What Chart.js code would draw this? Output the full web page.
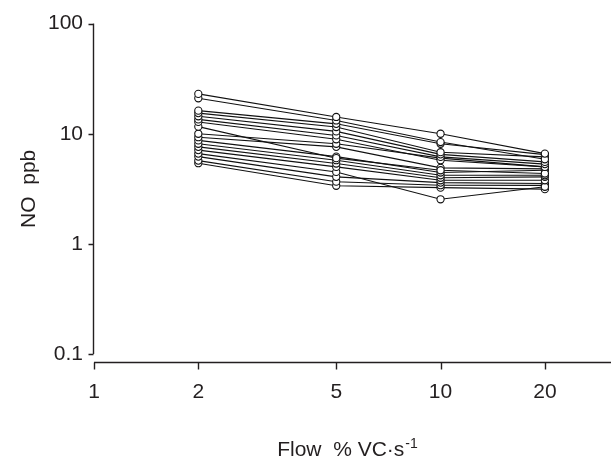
<!DOCTYPE html>
<html>
<head>
<meta charset="utf-8">
<script src="https://cdn.jsdelivr.net/npm/chart.js@4"></script>
<style>
  html, body { margin: 0; padding: 0; background: #fff; }
  #wrap { width: 611px; height: 461px; }
</style>
</head>
<body>
<div id="wrap"><canvas id="chart" width="611" height="461"></canvas></div>
<script>
const flows = [2, 5, 10, 20];
const xTicks = [1, 2, 5, 10, 20];
const yTicks = [0.1, 1, 10, 100];

// NO (ppb) per subject, one array for each flow
const noAt2  = [23, 21, 16.2, 15.4, 14.4, 13.5, 12.8, 11.6, 10, 9.3, 8.7, 8.1, 7.6, 7.1, 6.6, 6.2, 5.7, 5.4];
const noAt5  = [14.2, 13.2, 12.3, 11.5, 10.5, 9.65, 8.9, 6.0, 8.1, 7.6, 6.2, 5.75, 5.36, 5.0, 4.5, 4.06, 3.67, 3.37];
const noAt10 = [10, 8.4, 8.1, 6.8, 6.5, 6.16, 5.74, 4.66, 6.0, 4.9, 4.44, 4.2, 3.98, 3.78, 2.54, 3.6, 3.41, 3.24];
const noAt20 = [6.6, 5.86, 6.46, 6.16, 5.55, 5.3, 5.0, 4.35, 5.0, 4.8, 4.66, 4.2, 4.06, 3.78, 3.3, 3.53, 3.4, 3.14];

const FONT = '"Liberation Sans", Arial, sans-serif';
const INK = '#231f20';

const datasets = noAt2.map((_, i) => ({
  data: [noAt2[i], noAt5[i], noAt10[i], noAt20[i]].map((v, j) => ({ x: flows[j], y: v })),
  borderColor: '#111',
  borderWidth: 1.1,
  pointRadius: 3.6,
  pointBorderWidth: 1.1,
  pointBackgroundColor: '#fff',
  pointBorderColor: '#111',
  tension: 0
}));

// detached axes like the original figure
const axesPlugin = {
  id: 'axes',
  afterDraw(chart) {
    const { ctx, scales: { x, y } } = chart;
    const ax = Math.round(y.right) - 0.5;
    const ay = Math.round(y.getPixelForValue(0.1)) + 8.5;
    ctx.save();
    ctx.strokeStyle = INK;
    ctx.lineWidth = 1.4;
    ctx.beginPath();
    ctx.moveTo(ax, y.getPixelForValue(100));
    ctx.lineTo(ax, y.getPixelForValue(0.1));
    yTicks.forEach(v => {
      const py = Math.round(y.getPixelForValue(v)) + 0.5;
      ctx.moveTo(ax - 5, py);
      ctx.lineTo(ax, py);
    });
    ctx.moveTo(x.getPixelForValue(1), ay);
    ctx.lineTo(chart.width, ay);
    xTicks.forEach(v => {
      const px = Math.round(x.getPixelForValue(v)) + 0.5;
      ctx.moveTo(px, ay);
      ctx.lineTo(px, ay + 7);
    });
    ctx.stroke();

    // x axis title with superscript
    ctx.fillStyle = INK;
    ctx.textBaseline = 'alphabetic';
    ctx.textAlign = 'left';
    const main = 'Flow  % VC\u00B7s';
    ctx.font = '14px ' + FONT;
    const supW = ctx.measureText('-1').width;
    ctx.font = '21px ' + FONT;
    const mainW = ctx.measureText(main).width;
    const left = 347 - (mainW + supW) / 2;
    ctx.fillText(main, left, 456);
    ctx.font = '14px ' + FONT;
    ctx.fillText('-1', left + mainW + 1, 448);
    ctx.restore();
  }
};

new Chart(document.getElementById('chart'), {
  type: 'line',
  data: { datasets },
  plugins: [axesPlugin],
  options: {
    responsive: false,
    animation: false,
    layout: { padding: { top: 22, right: 1, left: 0, bottom: 0 } },
    plugins: { legend: { display: false }, tooltip: { enabled: false } },
    scales: {
      x: {
        type: 'logarithmic',
        min: 1,
        max: 30,
        afterBuildTicks: s => { s.ticks = xTicks.map(v => ({ value: v })); },
        afterFit: s => { s.height = 107; },
        grid: { display: false, drawTicks: false },
        border: { display: false },
        ticks: {
          padding: 26,
          color: INK,
          font: { family: FONT, size: 21 },
          callback: v => String(v),
          maxRotation: 0,
          autoSkip: false
        }
      },
      y: {
        type: 'logarithmic',
        min: 0.1,
        max: 100,
        afterBuildTicks: s => { s.ticks = yTicks.map(v => ({ value: v })); },
        afterFit: s => { s.width = 94; },
        grid: { display: false, drawTicks: false },
        border: { display: false },
        ticks: {
          padding: 11,
          color: INK,
          font: { family: FONT, size: 21 },
          callback: v => String(v),
          autoSkip: false
        },
        title: {
          display: true,
          text: 'NO  ppb',
          color: INK,
          font: { family: FONT, size: 21 },
          padding: { top: 17, bottom: 0 }
        }
      }
    }
  }
});
</script>
</body>
</html>
